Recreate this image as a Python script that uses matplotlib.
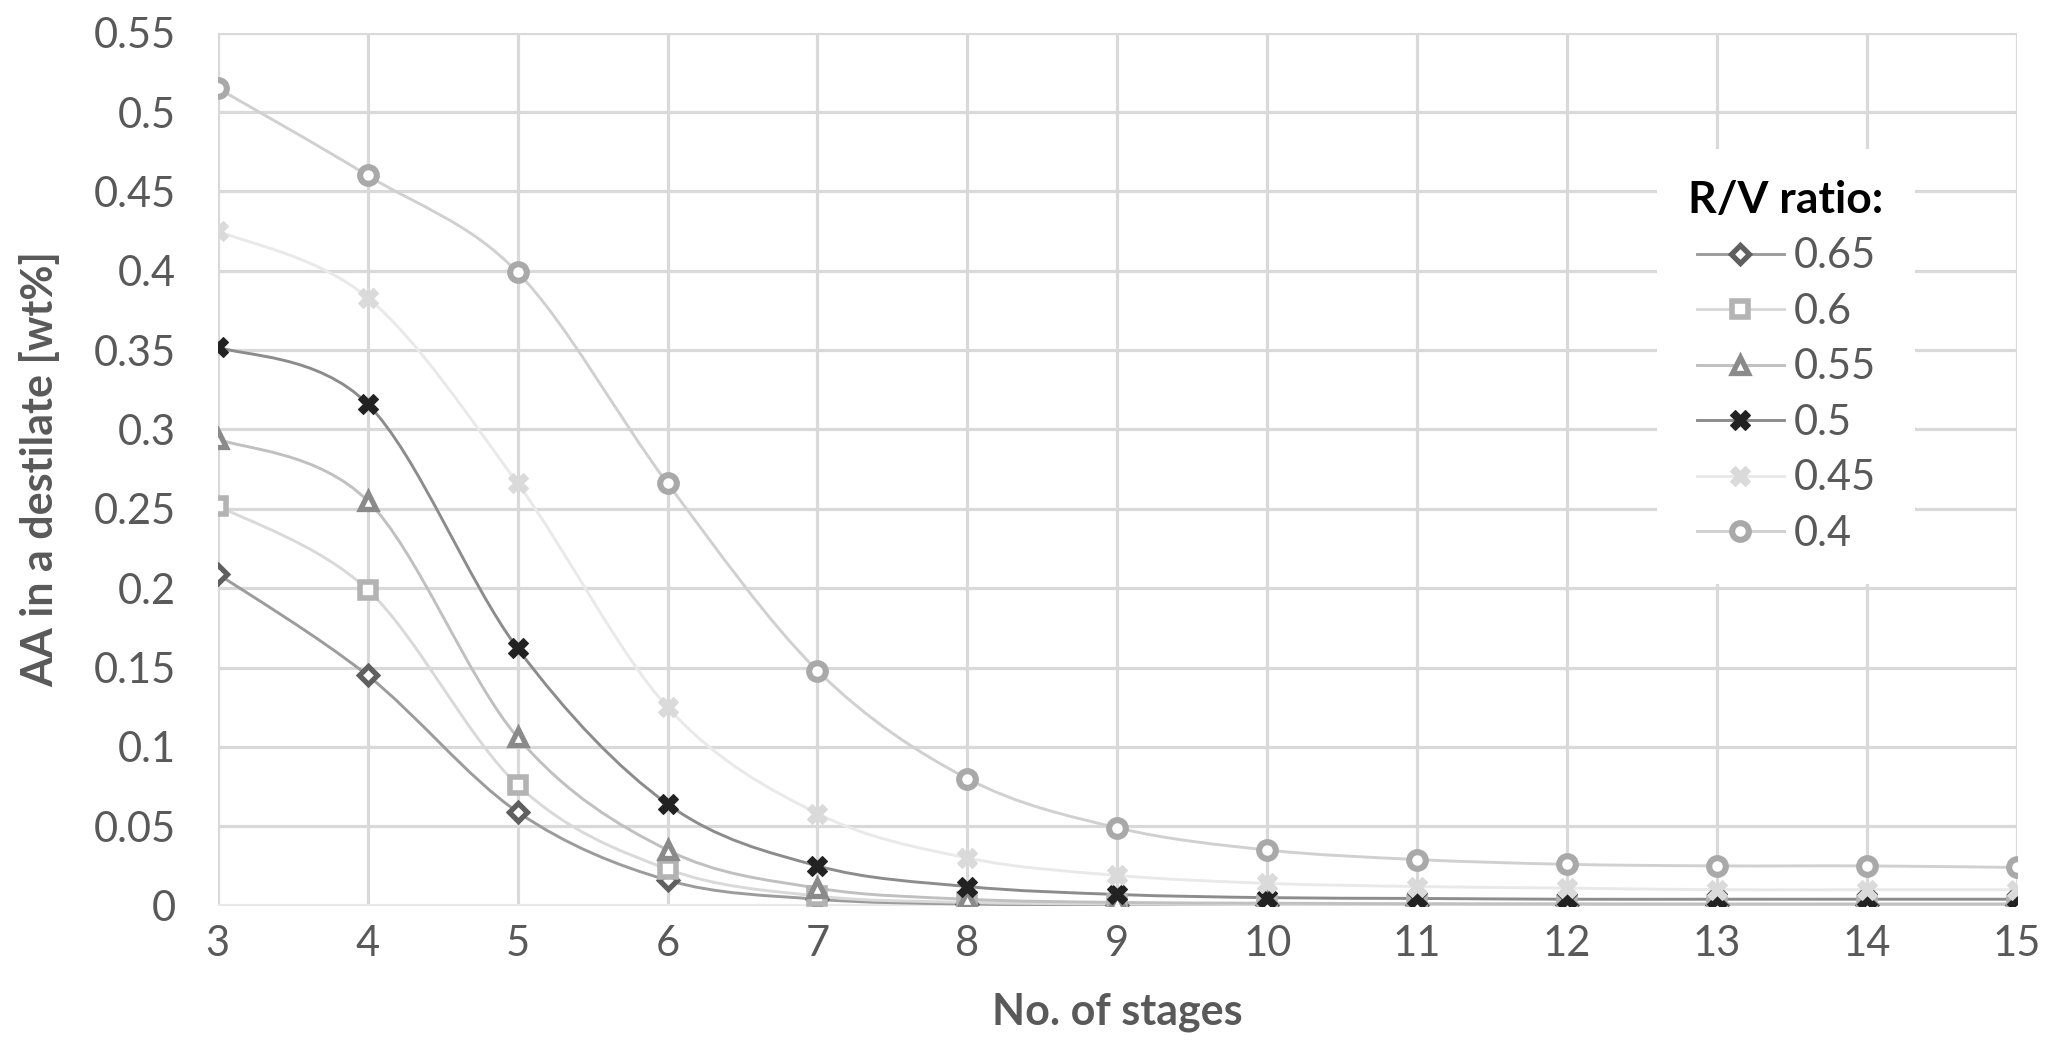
import numpy as np
import matplotlib
matplotlib.use("Agg")
import matplotlib.pyplot as plt
from matplotlib.path import Path
from matplotlib.patches import PathPatch
from matplotlib.lines import Line2D

plt.rcParams['font.family'] = ['Lato', 'DejaVu Sans']

# --- data ---
stages = [3, 4, 5, 6, 7, 8, 9, 10, 11, 12, 13, 14, 15]
ratios = ['0.65', '0.6', '0.55', '0.5', '0.45', '0.4']
aa_065 = [0.209, 0.145, 0.059, 0.016, 0.004, 0.001, 0.0005, 0.0003, 0.0002, 0.0002, 0.0002, 0.0002, 0.0002]
aa_060 = [0.252, 0.199, 0.076, 0.023, 0.006, 0.002, 0.001, 0.0006, 0.0005, 0.0005, 0.0005, 0.0005, 0.0005]
aa_055 = [0.294, 0.255, 0.106, 0.035, 0.011, 0.004, 0.002, 0.0015, 0.0012, 0.0011, 0.001, 0.001, 0.001]
aa_050 = [0.352, 0.316, 0.162, 0.064, 0.025, 0.012, 0.007, 0.005, 0.0045, 0.004, 0.004, 0.004, 0.004]
aa_045 = [0.425, 0.383, 0.266, 0.125, 0.058, 0.030, 0.019, 0.014, 0.012, 0.011, 0.010, 0.010, 0.010]
aa_040 = [0.515, 0.460, 0.399, 0.266, 0.148, 0.080, 0.049, 0.035, 0.029, 0.026, 0.025, 0.025, 0.024]
series = [aa_065, aa_060, aa_055, aa_050, aa_045, aa_040]

# style per series: (line colour, marker, marker colour, filled)
styles = [
    ('#9c9c9c', 'D', '#5f5f5f', False),
    ('#d9d9d9', 's', '#b3b3b3', False),
    ('#c0c0c0', '^', '#8a8a8a', False),
    ('#8c8c8c', 'X', '#222222', True),
    ('#e9e9e9', 'X', '#dadada', True),
    ('#d0d0d0', 'o', '#a9a9a9', False),
]
msizes = {'D': 9.5, 's': 11, '^': 12, 'X': 15, 'o': 12}
mews = {'D': 3.8, 's': 4, '^': 3.8, 'X': 0.8, 'o': 4.4}


def smooth_path(x, y):
    # Excel-style smoothed line: cubic bezier through the points
    x = np.asarray(x, float)
    y = np.asarray(y, float)
    n = len(x)
    verts = [(x[0], y[0])]
    codes = [Path.MOVETO]
    for i in range(n - 1):
        i0 = max(i - 1, 0)
        i3 = min(i + 2, n - 1)
        c1 = (x[i] + (x[i + 1] - x[i0]) / 6, y[i] + (y[i + 1] - y[i0]) / 6)
        c2 = (x[i + 1] - (x[i3] - x[i]) / 6, y[i + 1] - (y[i3] - y[i]) / 6)
        verts += [c1, c2, (x[i + 1], y[i + 1])]
        codes += [Path.CURVE4] * 3
    return Path(verts, codes)


fig = plt.figure(figsize=(20.54, 10.53), dpi=100)
ax = fig.add_axes([0.106, 0.140, 0.876, 0.829])

handles = []
for vals, (lc, mk, mc, filled), lab in zip(series, styles, ratios):
    ax.add_patch(PathPatch(smooth_path(stages, vals), facecolor='none', edgecolor=lc, lw=2.1, zorder=3))
    fc = mc if filled else 'white'
    ax.plot(stages, vals, ls='none', marker=mk, ms=msizes[mk], mfc=fc, mec=mc, mew=mews[mk], zorder=4)
    handles.append(Line2D([], [], color=lc, lw=2.1, marker=mk, ms=msizes[mk], mfc=fc, mec=mc, mew=mews[mk]))

ax.set_xlim(3, 15)
ax.set_ylim(0, 0.55)
ax.set_xticks(stages)
ax.set_yticks(np.arange(0, 0.551, 0.05))
ax.set_yticklabels(['0', '0.05', '0.1', '0.15', '0.2', '0.25', '0.3', '0.35', '0.4', '0.45', '0.5', '0.55'])
ax.grid(True, color='#d9d9d9', lw=2.3)
ax.set_axisbelow(True)
for s in ax.spines.values():
    s.set_visible(False)
ax.axhline(0, color='#e8e8e8', lw=3, zorder=1)
ax.tick_params(length=0, labelsize=30, labelcolor='#595959')
ax.tick_params(axis='x', pad=14)
ax.tick_params(axis='y', pad=30)

ax.set_xlabel('No. of stages', fontsize=31, fontweight='bold', color='#595959', labelpad=21)
ax.set_ylabel('AA in a destilate [wt%]', fontsize=31, fontweight='bold', color='#595959', labelpad=24)

leg = ax.legend(handles, ratios, title='R/V ratio:', loc='upper left', bbox_to_anchor=(0.80, 0.867),
                frameon=True, fontsize=30, handlelength=2.1, handletextpad=0.22,
                labelspacing=0.42, borderpad=0.75, borderaxespad=0)
leg.get_frame().set_edgecolor('none')
leg.get_frame().set_facecolor('white')
leg.get_frame().set_alpha(1)
leg.get_frame().set_boxstyle('square', pad=0)
leg.get_title().set_fontsize(32)
leg.get_title().set_fontweight('bold')
leg.get_title().set_color('black')
for t in leg.get_texts():
    t.set_color('#595959')
leg.set_zorder(5)

fig.savefig('out.png', dpi=100)
